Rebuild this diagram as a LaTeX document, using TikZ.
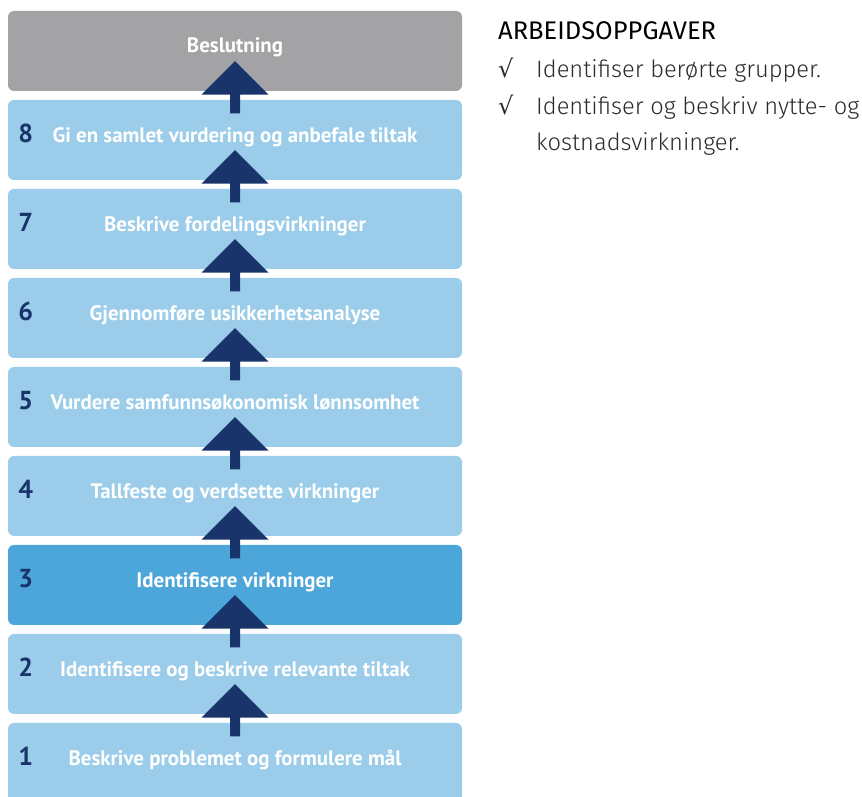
\documentclass[tikz,border=0pt]{standalone}
\usepackage{fontspec}
\setmainfont{PT Sans}
\newfontfamily\regfont{Fira Sans}
\newfontfamily\lightfont{Fira Sans Light}
\newfontfamily\symfont{DejaVu Sans}
\usetikzlibrary{calc}
\definecolor{boxgray}{HTML}{A3A3A5}
\definecolor{boxlight}{HTML}{9BCDEA}
\definecolor{boxmid}{HTML}{4DA6DA}
\definecolor{navy}{HTML}{18346A}
\definecolor{itemgray}{HTML}{2A2A2A}
\newcommand\steparrow[2]{%
  \fill[navy] ($(#1.north)+(-5,-13.5)$) -- ($(#2.south)+(-5,-3.5)$) -- ($(#2.south)+(-33.5,-3.5)$)
    -- ($(#2.south)+(0,30)$) -- ($(#2.south)+(33.5,-3.5)$) -- ($(#2.south)+(5,-3.5)$)
    -- ($(#1.north)+(5,-13.5)$) -- cycle;}
\begin{document}
\begin{tikzpicture}[x=1pt,y=1pt,
  stepbox/.style={rectangle, rounded corners=6pt, minimum width=454pt, minimum height=80pt, inner sep=0pt, fill=boxlight},
  steptext/.style={text=white, font=\bfseries\fontsize{20.9}{25}\selectfont, anchor=base, inner sep=0pt},
  stepnum/.style={text=navy, font=\bfseries\fontsize{26}{30}\selectfont, anchor=base, inner sep=0pt},
  headtext/.style={anchor=base west, inner sep=0pt, text=black, font=\regfont\fontsize{25.5}{30}\selectfont},
  itemtext/.style={anchor=base west, inner sep=0pt, text=itemgray, font=\lightfont\fontsize{23.7}{28}\selectfont},
  checkmark/.style={anchor=base west, inner sep=0pt, text=itemgray, font=\symfont\fontsize{24}{28}\selectfont},
]
\useasboundingbox (0,0) rectangle (862,797);
% boxes
\node[stepbox, fill=boxgray] (b0) at (235,746) {};
\node[stepbox] (b8) at (235,657) {};
\node[stepbox] (b7) at (235,568) {};
\node[stepbox] (b6) at (235,479) {};
\node[stepbox] (b5) at (235,390) {};
\node[stepbox] (b4) at (235,301) {};
\node[stepbox, fill=boxmid] (b3) at (235,212) {};
\node[stepbox] (b2) at (235,123) {};
\node[stepbox] (b1) at (235,34) {};
% texts
\node[steptext] (t0) at ($(b0.north)+(0,-42)$) {Beslutning};
\node[steptext] (t8) at ($(b8.north)+(0,-43)$) {Gi en samlet vurdering og anbefale tiltak};
\node[steptext] (t7) at ($(b7.north)+(0,-43)$) {Beskrive fordelingsvirkninger};
\node[steptext] (t6) at ($(b6.north)+(0,-43)$) {Gjennomføre usikkerhetsanalyse};
\node[steptext] (t5) at ($(b5.north)+(0,-43)$) {Vurdere samfunnsøkonomisk lønnsomhet};
\node[steptext] (t4) at ($(b4.north)+(0,-43)$) {Tallfeste og verdsette virkninger};
\node[steptext] (t3) at ($(b3.north)+(0,-43)$) {Identifisere virkninger};
\node[steptext] (t2) at ($(b2.north)+(0,-43)$) {Identifisere og beskrive relevante tiltak};
\node[steptext] (t1) at ($(b1.north)+(0,-43)$) {Beskrive problemet og formulere mål};
% numbers
\node[stepnum] (n8) at ($(b8.north west)+(18,-43)$) {8};
\node[stepnum] (n7) at ($(b7.north west)+(18,-43)$) {7};
\node[stepnum] (n6) at ($(b6.north west)+(18,-43)$) {6};
\node[stepnum] (n5) at ($(b5.north west)+(18,-43)$) {5};
\node[stepnum] (n4) at ($(b4.north west)+(18,-43)$) {4};
\node[stepnum] (n3) at ($(b3.north west)+(18,-43)$) {3};
\node[stepnum] (n2) at ($(b2.north west)+(18,-43)$) {2};
\node[stepnum] (n1) at ($(b1.north west)+(18,-43)$) {1};
% arrows
\steparrow{b8}{b0}
\steparrow{b7}{b8}
\steparrow{b6}{b7}
\steparrow{b5}{b6}
\steparrow{b4}{b5}
\steparrow{b3}{b4}
\steparrow{b2}{b3}
\steparrow{b1}{b2}
% right text
\node[headtext] (head) at (498,757) {ARBEIDSOPPGAVER};
\node[checkmark] (c1) at (498,719) {√};
\node[itemtext] (i1) at (536,719) {Identifiser berørte grupper.};
\node[checkmark] (c2) at (498,682) {√};
\node[itemtext] (i2) at (536,682) {Identifiser og beskriv nytte- og};
\node[itemtext] (i3) at (536,646) {kostnadsvirkninger.};
\end{tikzpicture}
\end{document}
